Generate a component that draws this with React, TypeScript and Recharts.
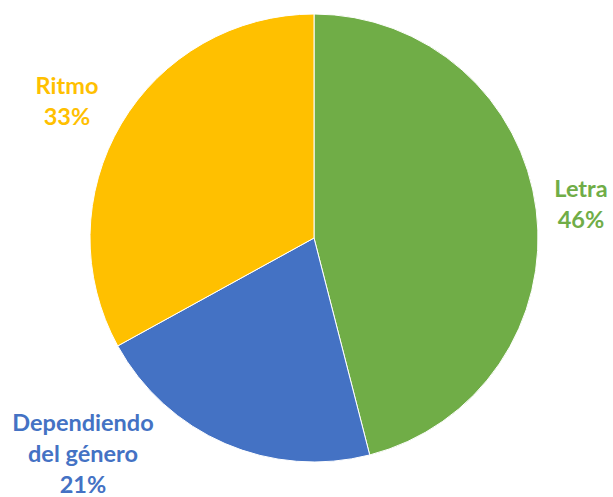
import { PieChart, Pie, Cell } from "recharts";

const categories = ["Letra", "Dependiendo del género", "Ritmo"];
const labelLines = [["Letra"], ["Dependiendo", "del género"], ["Ritmo"]];
const values = [46, 21, 33];
const colors = ["#70AD47", "#4472C4", "#FFC000"];

// label centre offsets from the pie centre (Excel pushes the labels outside)
const labelOffsets = [
  { dx: 267, dy: -35 },
  { dx: -231, dy: 215 },
  { dx: -247, dy: -138 },
];

const data = categories.map((name, i) => ({ name, value: values[i] }));

const LINE_H = 31;

function renderLabel(props: any) {
  const { cx, cy, index, percent } = props;
  const lines = [...labelLines[index], `${Math.round(percent * 100)}%`];
  const off = labelOffsets[index];
  const x = cx + off.dx;
  const midY = cy + off.dy;
  const startY = midY - ((lines.length - 1) * LINE_H) / 2;
  return (
    <text
      x={x}
      y={startY}
      textAnchor="middle"
      fill={colors[index]}
      fontFamily="Lato, 'Open Sans', sans-serif"
      fontWeight={700}
      fontSize={23.5}
      dominantBaseline="central"
    >
      {lines.map((l, i) => (
        <tspan key={i} x={x} y={startY + i * LINE_H} dominantBaseline="central">
          {l}
        </tspan>
      ))}
    </text>
  );
}

export default function App() {
  return (
    <div style={{ position: "absolute", left: 0, top: 0, width: 613, height: 497, background: "#fff" }}>
      <PieChart width={613} height={497} margin={{ top: 0, right: 0, bottom: 0, left: 0 }}>
        <Pie
          data={data}
          dataKey="value"
          nameKey="name"
          cx={314}
          cy={238}
          outerRadius={224}
          startAngle={90}
          endAngle={-270}
          stroke="#ffffff"
          strokeWidth={1}
          label={renderLabel}
          labelLine={false}
          isAnimationActive={false}
        >
          {data.map((d, i) => (
            <Cell key={d.name} fill={colors[i]} />
          ))}
        </Pie>
      </PieChart>
    </div>
  );
}
